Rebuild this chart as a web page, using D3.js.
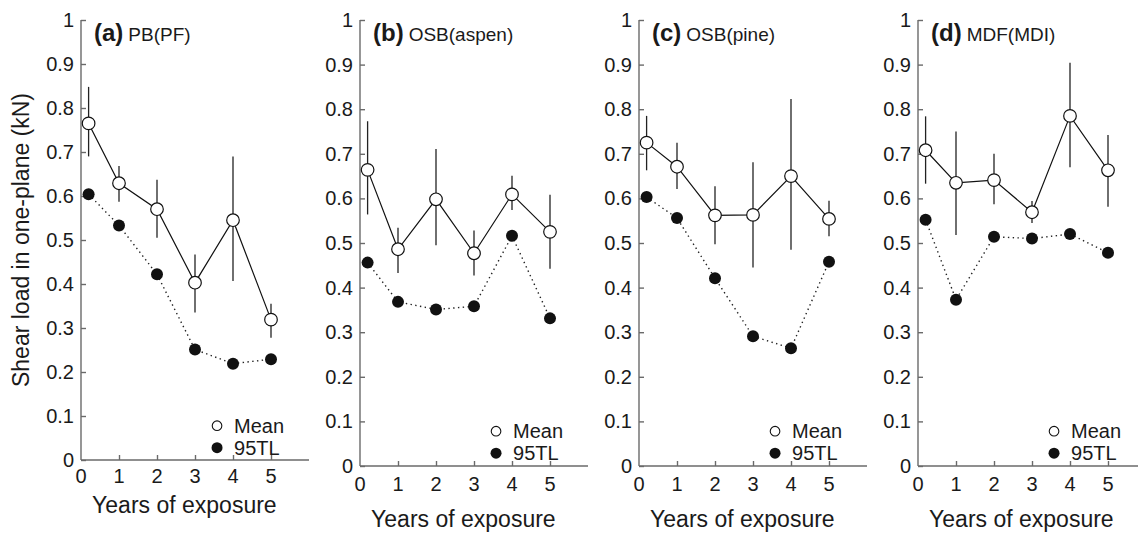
<!DOCTYPE html>
<html>
<head>
<meta charset="utf-8">
<style>
  body { margin: 0; background: #fff; }
  text { font-family: "Liberation Sans", Arial, sans-serif; fill: #1a1a1a; }
</style>
</head>
<body>
<script src="https://d3js.org/d3.v7.min.js"></script>
<script>
var width = 1138, height = 534;

// years of exposure (first point is the initial, un-exposed state)
var years = [0.2, 1, 2, 3, 4, 5];
var xTicks = [0, 1, 2, 3, 4, 5];
var yTicks = [0, 0.1, 0.2, 0.3, 0.4, 0.5, 0.6, 0.7, 0.8, 0.9, 1];

var panelTags = ['(a)', '(b)', '(c)', '(d)'];
var panelNames = ['PB(PF)', 'OSB(aspen)', 'OSB(pine)', 'MDF(MDI)'];

var meanPB = [0.765, 0.629, 0.570, 0.403, 0.545, 0.319];
var hiPB   = [0.848, 0.668, 0.637, 0.467, 0.690, 0.355];
var loPB   = [0.690, 0.587, 0.505, 0.335, 0.407, 0.278];
var tlPB   = [0.604, 0.533, 0.422, 0.251, 0.219, 0.229];

var meanAspen = [0.664, 0.486, 0.598, 0.477, 0.609, 0.525];
var hiAspen   = [0.773, 0.534, 0.711, 0.528, 0.651, 0.608];
var loAspen   = [0.564, 0.433, 0.495, 0.427, 0.574, 0.442];
var tlAspen   = [0.456, 0.368, 0.351, 0.358, 0.516, 0.331];

var meanPine = [0.725, 0.671, 0.562, 0.563, 0.650, 0.554];
var hiPine   = [0.785, 0.725, 0.627, 0.681, 0.823, 0.595];
var loPine   = [0.663, 0.621, 0.497, 0.445, 0.485, 0.515];
var tlPine   = [0.603, 0.556, 0.421, 0.291, 0.264, 0.458];

var meanMDF = [0.708, 0.635, 0.641, 0.569, 0.785, 0.663];
var hiMDF   = [0.784, 0.750, 0.700, 0.594, 0.904, 0.742];
var loMDF   = [0.633, 0.518, 0.587, 0.545, 0.670, 0.581];
var tlMDF   = [0.552, 0.373, 0.514, 0.510, 0.520, 0.478];

var panels = [
  { mean: meanPB, hi: hiPB, lo: loPB, tl: tlPB },
  { mean: meanAspen, hi: hiAspen, lo: loAspen, tl: tlAspen },
  { mean: meanPine, hi: hiPine, lo: loPine, tl: tlPine },
  { mean: meanMDF, hi: hiMDF, lo: loMDF, tl: tlMDF }
];

// panel (a) was pasted slightly smaller than the other three
var panelLeft = [81, 360, 639, 918];
var panelBottom = [460, 466, 466, 466];
var xLabelGap = [23, 25, 25, 25];
var xTitleY = [513, 527, 527, 527];
var plotTop = 20, plotW = 228;

var svg = d3.select('body').append('svg')
  .attr('width', width).attr('height', height);

svg.append('text')
  .attr('transform', 'translate(29,240) rotate(-90)')
  .attr('text-anchor', 'middle')
  .style('font-size', '23px')
  .text('Shear load in one-plane (kN)');

panels.forEach(function (p, i) {
  var g = svg.append('g').attr('transform', 'translate(' + panelLeft[i] + ',0)');
  var bottom = panelBottom[i];
  var xScale = d3.scaleLinear().domain([0, 6]).range([0, plotW]);
  var yScale = d3.scaleLinear().domain([0, 1]).range([bottom, plotTop]);

  // y axis, ticks point inward
  var yAxis = d3.axisRight(yScale).tickValues(yTicks).tickSize(5).tickFormat('');
  var ya = g.append('g').call(yAxis);
  ya.select('.domain').attr('d', 'M0,' + plotTop + 'V' + bottom);
  ya.selectAll('line, path').attr('stroke', '#6a6a6a').attr('stroke-width', 1.4);
  g.selectAll('.ylab').data(yTicks).enter().append('text')
    .attr('x', -7).attr('y', function (d) { return yScale(d) + 7; })
    .attr('text-anchor', 'end')
    .style('font-size', '20px')
    .text(function (d) { return d3.format('~g')(d); });

  // x axis, ticks point up
  var xAxis = d3.axisTop(xScale).tickValues(xTicks).tickSize(5).tickFormat('');
  var xa = g.append('g').attr('transform', 'translate(0,' + bottom + ')').call(xAxis);
  xa.select('.domain').attr('d', 'M0,0H' + plotW);
  xa.selectAll('line, path').attr('stroke', '#6a6a6a').attr('stroke-width', 1.4);
  xa.selectAll('.tick').filter(function (d) { return d === 0; }).remove();
  g.selectAll('.xlab').data(xTicks).enter().append('text')
    .attr('x', function (d) { return xScale(d); })
    .attr('y', bottom + xLabelGap[i])
    .attr('text-anchor', 'middle')
    .style('font-size', '20px')
    .text(function (d) { return d; });

  g.append('text')
    .attr('x', xScale(2.72)).attr('y', xTitleY[i])
    .attr('text-anchor', 'middle')
    .style('font-size', '23px')
    .text('Years of exposure');

  // panel title
  var title = g.append('text').attr('x', 13).attr('y', 41);
  title.append('tspan').style('font-weight', 'bold').style('font-size', '24px').text(panelTags[i]);
  title.append('tspan').attr('dx', 5).style('font-size', '19px').text(panelNames[i]);

  // 95TL dotted line
  var line = d3.line()
    .x(function (d, j) { return xScale(years[j]); })
    .y(function (d) { return yScale(d); });
  g.append('path').datum(p.tl)
    .attr('d', line)
    .attr('fill', 'none').attr('stroke', '#222')
    .attr('stroke-width', 1.4).attr('stroke-dasharray', '1.4,3.4');

  // error bars
  g.selectAll('.err').data(years).enter().append('line')
    .attr('x1', function (d) { return xScale(d); })
    .attr('x2', function (d) { return xScale(d); })
    .attr('y1', function (d, j) { return yScale(p.hi[j]); })
    .attr('y2', function (d, j) { return yScale(p.lo[j]); })
    .attr('stroke', '#222').attr('stroke-width', 1.3);

  // mean solid line
  g.append('path').datum(p.mean)
    .attr('d', line)
    .attr('fill', 'none').attr('stroke', '#111').attr('stroke-width', 1.2);

  g.selectAll('.tl').data(p.tl).enter().append('circle')
    .attr('cx', function (d, j) { return xScale(years[j]); })
    .attr('cy', function (d) { return yScale(d); })
    .attr('r', 6).attr('fill', '#111');

  g.selectAll('.mean').data(p.mean).enter().append('circle')
    .attr('cx', function (d, j) { return xScale(years[j]); })
    .attr('cy', function (d) { return yScale(d); })
    .attr('r', 6.3).attr('fill', '#fff').attr('stroke', '#111').attr('stroke-width', 1.2);

  // legend
  var lg = g.append('g').attr('transform', 'translate(' + xScale(3.58) + ',' + yScale(0.078) + ')');
  lg.append('circle').attr('cx', 0).attr('cy', 0).attr('r', 4.8)
    .attr('fill', '#fff').attr('stroke', '#111').attr('stroke-width', 1.1);
  lg.append('text').attr('x', 17).attr('y', 7).style('font-size', '20px').text('Mean');
  lg.append('circle').attr('cx', 0).attr('cy', 22).attr('r', 5.5).attr('fill', '#111');
  lg.append('text').attr('x', 17).attr('y', 29).style('font-size', '20px').text('95TL');
});
</script>
</body>
</html>
